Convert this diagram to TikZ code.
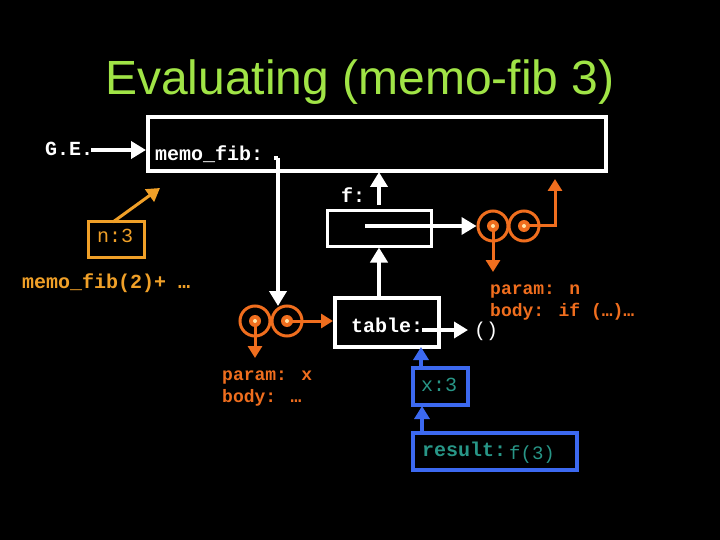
\documentclass[tikz,border=0pt]{standalone}
\usepackage{fontspec}
\setmainfont{Liberation Sans}
\newfontfamily\cour{Liberation Mono}
\usetikzlibrary{arrows.meta}
\definecolor{titlegreen}{RGB}{160,228,70}
\definecolor{lorange}{RGB}{240,160,40}
\definecolor{dorange}{RGB}{240,110,30}
\definecolor{mblue}{RGB}{60,105,240}
\definecolor{teal2}{RGB}{40,150,135}
\definecolor{dotc}{RGB}{255,230,170}
\tikzset{
  box/.style={draw, line width=#1, inner sep=0pt, minimum width=0pt, minimum height=0pt},
  mono/.style={font=\cour\bfseries\fontsize{20}{22}\selectfont, inner sep=0pt, anchor=base west},
  monos/.style={font=\cour\bfseries\fontsize{18}{20}\selectfont, inner sep=0pt, anchor=base west},
  warrow/.style={white, line width=4pt, -{Triangle[length=15pt,width=17pt]}},
  oarrow/.style={dorange, line width=3pt, -{Triangle[length=12pt,width=14pt]}},
  barrow/.style={mblue, line width=4pt, -{Triangle[length=13pt,width=15pt]}},
  ring/.style={circle, draw=dorange, line width=3pt, minimum size=30pt, inner sep=0pt},
}
\begin{document}
\begin{tikzpicture}[x=1pt,y=-1pt]
\useasboundingbox (0,0) rectangle (720,540);
\fill[black] (0,0) rectangle (720,540);
% title
\node[titlegreen, font=\fontsize{48}{52}\selectfont, anchor=base, inner sep=0pt] (title) at (360,95) {Evaluating (memo-fib 3)};
% global environment
\node[box=4pt, white, minimum width=458pt, minimum height=54pt] (ge) at (377,144) {};
\node[mono, white] (getxt) at (45,156) {G.E.};
\coordinate (gea) at (91,150);
\draw[warrow] (gea) -- (ge.west |- gea);
\node[mono, white] (memofib) at (155,161) {memo\_fib:};
\coordinate (mfs) at (274,158);
\coordinate (mfc) at (278,158);
% closure 1
\node[ring] (c1l) at (255,321) {};
\node[ring] (c1r) at (287,321) {};
\coordinate (c1top) at (278,306);
\draw[white, line width=3.5pt] (mfs) -- (mfc);
\draw[warrow] (mfc) -- (c1top);
% f frame
\node[box=3pt, white, minimum width=104pt, minimum height=35pt] (fbox) at (379,228.5) {};
\node[mono, white] (ftxt) at (341,203) {f:};
\coordinate (fup) at (379,205);
\draw[warrow] (fup) -- (379,172);
% closure 2
\node[ring] (c2l) at (493,226) {};
\node[ring] (c2r) at (524,226) {};
\coordinate (fin) at (365,226);
\draw[white, line width=3.5pt, -{Triangle[length=15pt,width=17pt]}] (fin) -- (c2l.west);
% table frame
\node[box=4pt, white, minimum width=104pt, minimum height=49pt] (tbl) at (387,322.5) {};
\node[mono, white] (tbltxt) at (351,332) {table:};
\coordinate (tblin) at (422,330);
\node[mono, white, font=\cour\fontsize{20}{22}\selectfont] (nil) at (474,336) {()};
\draw[white, line width=3.5pt, -{Triangle[length=14pt,width=16pt]}] (tblin) -- (468,330);
\draw[warrow] (tbl.north -| fbox) -- (fbox.south);
% closure 1 pointers
\draw[oarrow] (c1l.center) -- (255,358);
\draw[oarrow] (c1r.center) -- (tbl.west |- c1r);
% closure 2 pointers
\draw[oarrow] (c2l.center) -- (493,272);
\coordinate (c2corner) at (555,226);
\draw[oarrow] (c2r.center) -- (c2corner) -- (555,179);
% dots in rings
\foreach \c in {c1l,c1r,c2l,c2r}{
  \fill[dorange] (\c.center) circle (6);
  \fill[dotc] (\c.center) circle (2);
}
\node[monos, dorange] (p1) at (222,380) {param: x};
\node[monos, dorange] (b1) at (222,402) {body: …};
\node[monos, dorange] (p2) at (490,294) {param: n};
\node[monos, dorange] (b2) at (490,316) {body: if (…)…};
% n:3 frame
\node[box=3pt, lorange, minimum width=56pt, minimum height=35pt] (n3) at (116,239.5) {};
\node[mono, lorange, font=\cour\fontsize{20}{22}\selectfont] (n3txt) at (97,243) {n:3};
\draw[lorange, line width=3pt, -{Triangle[length=13pt,width=15pt]}] (113,222) -- (160,188);
\node[mono, lorange] (mf2) at (22,288) {memo\_fib(2)+ …};
% x:3 frame
\node[box=4pt, mblue, minimum width=55pt, minimum height=37pt] (x3) at (440.5,386.5) {};
\node[mono, teal2, font=\cour\fontsize{20}{22}\selectfont] (x3txt) at (421,391) {x:3};
\draw[barrow] (421,368) -- (421,347);
% result frame
\node[box=4pt, mblue, minimum width=164pt, minimum height=37pt] (res) at (495,451.5) {};
\node[mono, teal2] (restxt) at (422,456) {result:};
\node[mono, teal2, font=\cour\fontsize{19}{22}\selectfont] (f3) at (509,459) {f(3)};
\draw[barrow] (422,433) -- (422,406);
\end{tikzpicture}
\end{document}
